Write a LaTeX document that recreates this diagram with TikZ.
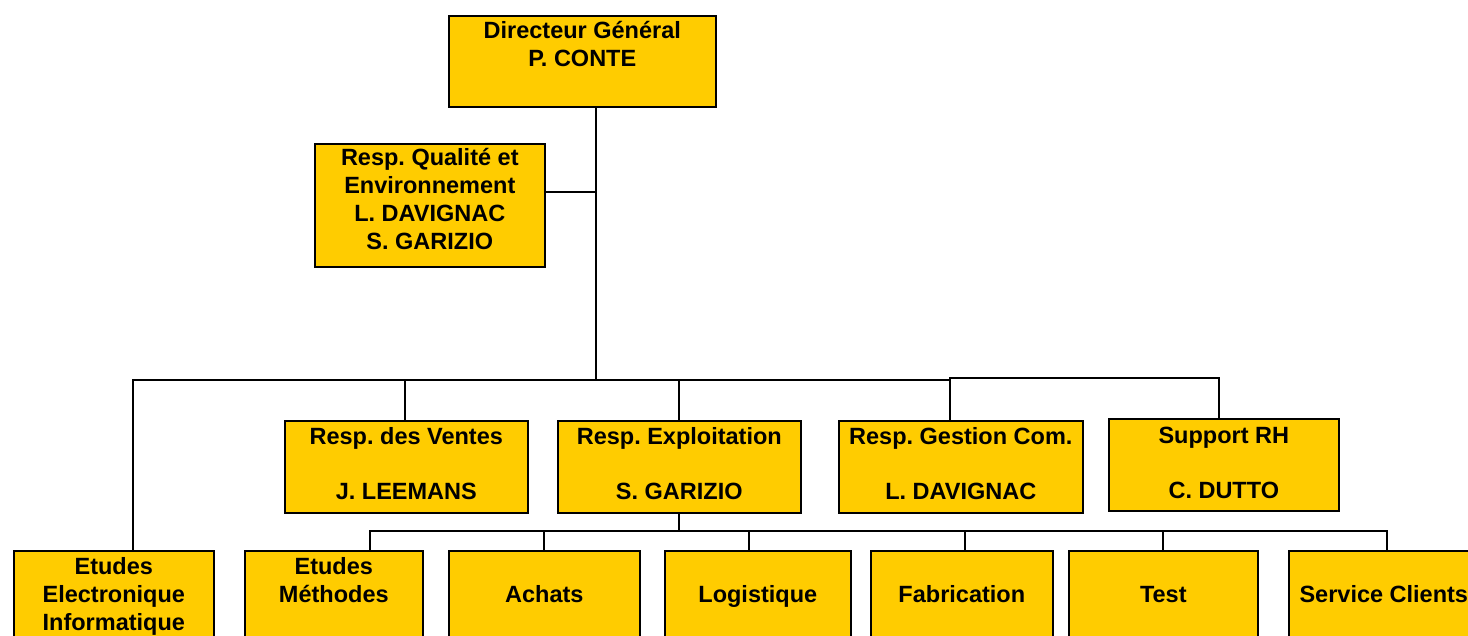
\documentclass[tikz,border=0pt]{standalone}
\usepackage{fontspec}
\setmainfont{Liberation Sans}
\frenchspacing
\definecolor{gold}{HTML}{FFCC00}
\tikzset{
  obox/.style={draw=black, line width=1.6pt, fill=gold, inner sep=0pt, anchor=north west,
    font=\fontsize{23.5}{28}\selectfont\bfseries},
  conn/.style={draw=black, line width=1.6pt}
}
\newcommand\orgbox[7]{\node[obox] (#1) at (#2,#3) {\parbox[c][#5pt][t]{#4pt}{\centering\rule{0pt}{#6pt}#7}};}
\begin{document}
\begin{tikzpicture}[x=1pt,y=-1pt]
\useasboundingbox (0,0) rectangle (1468,635);
\clip (0,0) rectangle (1468,635);
\orgbox{dg}{448}{15}{267}{91}{22.4}{Directeur Général\\P. CONTE}
\orgbox{qual}{314}{143}{230}{123}{21.4}{Resp. Qualité et\\Environnement\\L. DAVIGNAC\\S. GARIZIO}
\orgbox{ventes}{284}{420}{243}{92}{23.4}{Resp. des Ventes\\[27pt]J. LEEMANS}
\orgbox{expl}{557}{420}{243}{92}{23.4}{Resp. Exploitation\\[27pt]S. GARIZIO}
\orgbox{gest}{838}{420}{244}{92}{23.4}{Resp. Gestion Com.\\[27pt]L. DAVIGNAC}
\orgbox{supp}{1108}{418}{230}{92}{24.4}{Support RH\\[27pt]C. DUTTO}
\orgbox{etel}{13}{550}{200}{100}{23.4}{Etudes\\Electronique\\Informatique}
\orgbox{meth}{244}{550}{178}{100}{23.4}{Etudes\\Méthodes}
\orgbox{achats}{448}{550}{191}{100}{23.4}{\\Achats}
\orgbox{logi}{664}{550}{186}{100}{23.4}{\\Logistique}
\orgbox{fab}{870}{550}{182}{100}{23.4}{\\Fabrication}
\orgbox{test}{1068}{550}{189}{100}{23.4}{\\Test}
\orgbox{serv}{1288}{550}{190}{100}{23.4}{\\Service Clients}
\coordinate (jq) at (596,192);
\coordinate (bus) at (596,380);
\coordinate (sub) at (679,531);
\draw[conn] (dg.south -| bus) -- (bus);
\draw[conn] (jq -| qual.east) -- (jq);
\draw[conn] (etel.north -| 133,0) -- (133,380) -- (950,380);
\draw[conn] (gest.north -| 950,0) -- (950,378) -- (1219,378) -- (supp.north -| 1219,0);
\draw[conn] (ventes.north -| 405,0) -- (405,380);
\draw[conn] (expl.north -| 679,0) -- (679,380);
\draw[conn] (expl.south -| sub) -- (sub);
\draw[conn] (meth.north -| 370,0) -- (370,531) -- (1387,531) -- (serv.north -| 1387,0);
\draw[conn] (achats.north -| 544,0) -- (544,531);
\draw[conn] (logi.north -| 749,0) -- (749,531);
\draw[conn] (fab.north -| 965,0) -- (965,531);
\draw[conn] (test.north -| 1163,0) -- (1163,531);
\end{tikzpicture}
\end{document}
